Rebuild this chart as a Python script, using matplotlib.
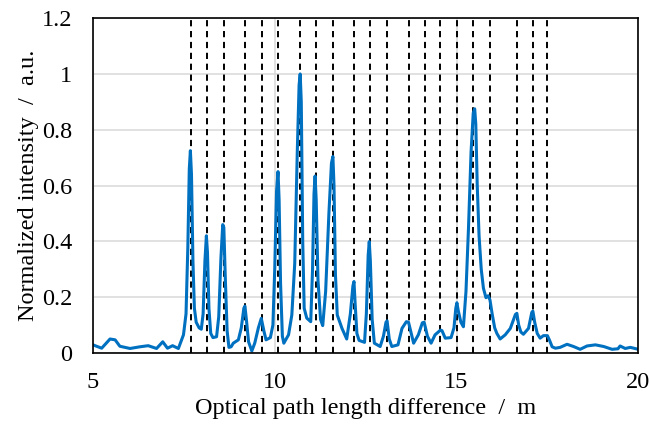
import matplotlib
matplotlib.use('Agg')
import matplotlib.pyplot as plt

# Normalized interferogram envelope vs optical path length difference
opd_m = [5.00, 5.24, 5.47, 5.61, 5.74, 6.02, 6.29, 6.52, 6.75, 6.92, 7.05, 7.19, 7.35,
         7.49, 7.56, 7.61, 7.65, 7.68, 7.71, 7.75, 7.79, 7.84, 7.92, 7.98, 8.03, 8.08,
         8.12, 8.15, 8.19, 8.24, 8.30, 8.40, 8.46, 8.52, 8.57, 8.60, 8.64, 8.69, 8.74,
         8.80, 8.86, 9.00, 9.08, 9.15, 9.18, 9.22, 9.28, 9.37, 9.45, 9.55, 9.63, 9.70,
         9.76, 9.88, 9.95, 10.00, 10.05, 10.09, 10.12, 10.16, 10.21, 10.25, 10.38, 10.47,
         10.55, 10.62, 10.67, 10.70, 10.73, 10.77, 10.81, 10.88, 10.99, 11.04, 11.08,
         11.11, 11.14, 11.19, 11.26, 11.32, 11.40, 11.49, 11.56, 11.60, 11.63, 11.67,
         11.72, 11.85, 11.98, 12.08, 12.15, 12.18, 12.21, 12.26, 12.32, 12.47, 12.52,
         12.57, 12.60, 12.63, 12.68, 12.74, 12.90, 12.99, 13.06, 13.09, 13.15, 13.22,
         13.39, 13.50, 13.62, 13.68, 13.82, 13.95, 14.06, 14.11, 14.20, 14.30, 14.41,
         14.56, 14.60, 14.69, 14.85, 14.93, 14.98, 15.01, 15.05, 15.12, 15.19, 15.26,
         15.33, 15.40, 15.46, 15.50, 15.53, 15.57, 15.62, 15.68, 15.74, 15.81, 15.87,
         15.92, 15.98, 16.05, 16.11, 16.20, 16.34, 16.48, 16.62, 16.66, 16.71, 16.77,
         16.84, 16.98, 17.07, 17.10, 17.15, 17.22, 17.30, 17.39, 17.50, 17.56, 17.63,
         17.72, 17.85, 18.04, 18.22, 18.40, 18.59, 18.82, 19.05, 19.28, 19.44, 19.50,
         19.64, 19.78, 20.00]
intensity = [0.029, 0.017, 0.050, 0.047, 0.024, 0.016, 0.022, 0.026, 0.016, 0.040, 0.017,
             0.026, 0.016, 0.065, 0.14, 0.38, 0.66, 0.725, 0.64, 0.33, 0.16, 0.11, 0.09,
             0.085, 0.14, 0.33, 0.42, 0.36, 0.16, 0.07, 0.055, 0.058, 0.13, 0.34, 0.46,
             0.45, 0.27, 0.08, 0.02, 0.022, 0.035, 0.047, 0.09, 0.16, 0.168, 0.12, 0.04,
             0.007, 0.035, 0.09, 0.124, 0.08, 0.047, 0.055, 0.10, 0.30, 0.58, 0.650, 0.55,
             0.25, 0.06, 0.035, 0.065, 0.136, 0.32, 0.72, 0.96, 1.00, 0.90, 0.40, 0.16,
             0.125, 0.112, 0.30, 0.57, 0.634, 0.55, 0.26, 0.12, 0.098, 0.22, 0.50, 0.68,
             0.704, 0.60, 0.28, 0.136, 0.088, 0.050, 0.14, 0.24, 0.256, 0.18, 0.07, 0.045,
             0.038, 0.14, 0.35, 0.399, 0.33, 0.12, 0.035, 0.023, 0.06, 0.11, 0.115, 0.05,
             0.023, 0.029, 0.088, 0.112, 0.11, 0.035, 0.065, 0.108, 0.11, 0.06, 0.035,
             0.065, 0.082, 0.08, 0.053, 0.055, 0.09, 0.16, 0.18, 0.15, 0.11, 0.094, 0.22,
             0.45, 0.72, 0.86, 0.875, 0.82, 0.60, 0.42, 0.30, 0.232, 0.198, 0.205, 0.19,
             0.14, 0.09, 0.07, 0.050, 0.065, 0.088, 0.138, 0.142, 0.10, 0.075, 0.067,
             0.088, 0.145, 0.150, 0.11, 0.07, 0.053, 0.062, 0.062, 0.045, 0.022, 0.017,
             0.020, 0.031, 0.023, 0.013, 0.025, 0.029, 0.023, 0.013, 0.015, 0.025, 0.016,
             0.020, 0.013]

# Expected peak positions (vertical markers)
marker_m = [7.70, 8.14, 8.60, 9.18, 9.64, 10.08, 10.70, 11.13, 11.60, 12.18, 12.62,
            13.08, 13.70, 14.12, 14.55, 15.02, 15.46, 15.93, 16.65, 17.11, 17.50]

plt.rcParams['font.family'] = ['Liberation Serif', 'DejaVu Serif']

fig = plt.figure(figsize=(6.5, 4.32), dpi=100)
ax = fig.add_axes([0.143, 0.183, 0.839, 0.775])

ax.set_xlim(5, 20)
ax.set_ylim(0, 1.2)
ax.set_xticks([5, 10, 15, 20])
ax.set_yticks([0, 0.2, 0.4, 0.6, 0.8, 1.0, 1.2])
ax.set_yticklabels(['0', '0.2', '0.4', '0.6', '0.8', '1', '1.2'])
ax.grid(True, color='#d9d9d9', linewidth=1.1, zorder=0)
ax.set_axisbelow(True)

for xm in marker_m:
    ax.axvline(xm, color='black', linewidth=1.4, linestyle=(0, (3.2, 2.4)), zorder=2)

ax.plot(opd_m, intensity, color='#0070c0', linewidth=2.2, zorder=3,
        solid_joinstyle='round', solid_capstyle='round')

for sp in ax.spines.values():
    sp.set_color('black')
    sp.set_linewidth(1.2)
    sp.set_zorder(4)

ax.tick_params(axis='both', length=0, labelsize=17.5)
ax.tick_params(axis='y', pad=15)
ax.tick_params(axis='x', pad=14)

ax.set_xlabel('Optical path length difference  /  m', fontsize=17.5, labelpad=3)
ax.set_ylabel('Normalized intensity  /  a.u.', fontsize=17.5, labelpad=2)

fig.savefig('out.png', dpi=100)
